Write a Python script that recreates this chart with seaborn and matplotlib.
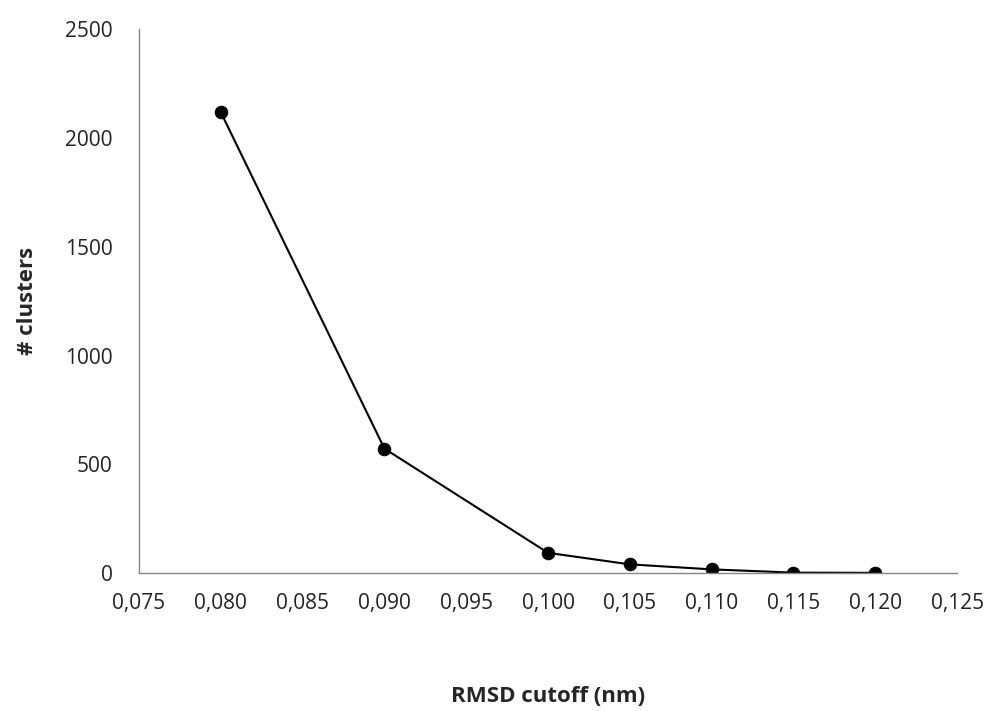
import matplotlib
matplotlib.use("Agg")
import matplotlib.pyplot as plt
import seaborn as sns
import pandas as pd
from matplotlib.ticker import FuncFormatter, MultipleLocator

cutoff = [0.080, 0.090, 0.100, 0.105, 0.110, 0.115, 0.120]
clusters = [2118, 572, 93, 40, 17, 2, 1]

sns.set_style("white")
plt.rcParams['font.family'] = ['Open Sans', 'DejaVu Sans']

df = pd.DataFrame({"cutoff": cutoff, "clusters": clusters})

fig = plt.figure(figsize=(9.88, 7.11), dpi=100)
ax = fig.add_axes([0.1407, 0.194, 0.828, 0.765])
sns.lineplot(data=df, x="cutoff", y="clusters", ax=ax, color="black",
             marker="o", markersize=9, linewidth=1.5, markeredgecolor="black")

ax.set_xlim(0.075, 0.125)
ax.set_ylim(0, 2500)
ax.xaxis.set_major_locator(MultipleLocator(0.005))
ax.yaxis.set_major_locator(MultipleLocator(500))
ax.xaxis.set_major_formatter(FuncFormatter(lambda v, p: f"{v:.3f}".replace(".", ",")))
ax.yaxis.set_major_formatter(FuncFormatter(lambda v, p: f"{int(round(v))}"))

for s in ["top", "right"]:
    ax.spines[s].set_visible(False)
for s in ["left", "bottom"]:
    ax.spines[s].set_color("#868686")
    ax.spines[s].set_linewidth(1)
ax.tick_params(axis="both", which="major", direction="out", length=7, width=1,
               color="#868686", labelsize=15, labelcolor="#222222")
ax.tick_params(axis="x", pad=7)
ax.tick_params(axis="y", pad=12)

ax.set_xlabel("RMSD cutoff (nm)", fontsize=16, fontweight="bold", labelpad=52)
ax.set_ylabel("# clusters", fontsize=16, fontweight="bold", labelpad=19)

fig.savefig("out.png", dpi=100)
